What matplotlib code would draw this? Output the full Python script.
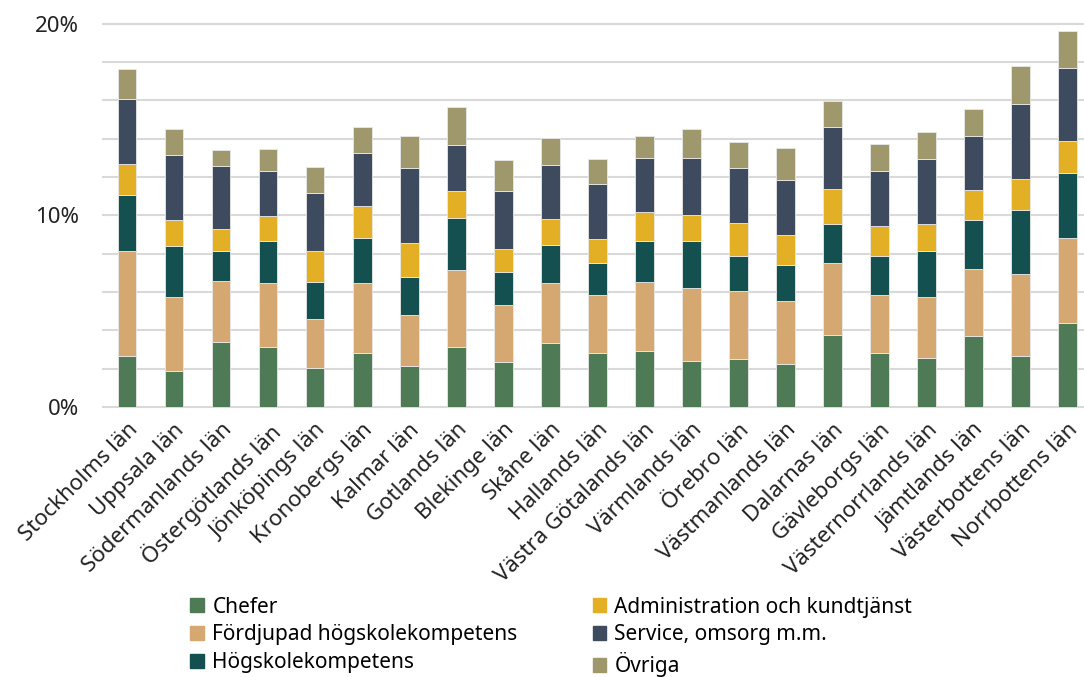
import matplotlib
matplotlib.use("Agg")
import matplotlib.pyplot as plt
import matplotlib.patches as mpatches
import numpy as np

plt.rcParams["font.family"] = ["Noto Sans", "DejaVu Sans"]

# Län och andelar (%) per yrkesgrupp
lan = [
    "Stockholms län", "Uppsala län", "Södermanlands län", "Östergötlands län",
    "Jönköpings län", "Kronobergs län", "Kalmar län", "Gotlands län",
    "Blekinge län", "Skåne län", "Hallands län", "Västra Götalands län",
    "Värmlands län", "Örebro län", "Västmanlands län", "Dalarnas län",
    "Gävleborgs län", "Västernorrlands län", "Jämtlands län",
    "Västerbottens län", "Norrbottens län",
]

chefer = [2.65, 1.88, 3.40, 3.14, 2.04, 2.82, 2.11, 3.14, 2.34, 3.35, 2.81,
          2.91, 2.41, 2.51, 2.25, 3.77, 2.82, 2.56, 3.70, 2.65, 4.39]
fordjupad = [5.51, 3.86, 3.19, 3.33, 2.55, 3.67, 2.69, 4.03, 2.96, 3.10, 3.03,
             3.61, 3.82, 3.56, 3.26, 3.73, 3.02, 3.19, 3.52, 4.31, 4.41]
hogskole = [2.91, 2.66, 1.54, 2.21, 1.95, 2.35, 2.00, 2.67, 1.74, 2.01, 1.68,
            2.15, 2.45, 1.78, 1.88, 2.07, 2.02, 2.41, 2.51, 3.29, 3.41]
admin = [1.61, 1.33, 1.13, 1.29, 1.59, 1.62, 1.76, 1.44, 1.19, 1.36, 1.25,
         1.50, 1.35, 1.74, 1.57, 1.78, 1.59, 1.38, 1.57, 1.66, 1.65]
service = [3.41, 3.40, 3.29, 2.32, 3.01, 2.81, 3.89, 2.37, 3.03, 2.80, 2.84,
           2.80, 2.94, 2.86, 2.86, 3.25, 2.86, 3.40, 2.82, 3.89, 3.82]
ovriga = [1.56, 1.39, 0.86, 1.17, 1.36, 1.32, 1.71, 2.01, 1.63, 1.43, 1.31,
          1.19, 1.55, 1.36, 1.69, 1.34, 1.40, 1.41, 1.43, 1.97, 1.94]

serier = [
    ("Chefer", chefer, "#4E7B55"),
    ("Fördjupad högskolekompetens", fordjupad, "#D4A870"),
    ("Högskolekompetens", hogskole, "#155050"),
    ("Administration och kundtjänst", admin, "#E3AF24"),
    ("Service, omsorg m.m.", service, "#3E4A5D"),
    ("Övriga", ovriga, "#9E986C"),
]

x = np.arange(len(lan))

fig = plt.figure(figsize=(10.84, 6.77), dpi=100, facecolor="white")
ax = fig.add_axes([0.095, 0.399, 0.905, 0.566])

bottom = np.zeros(len(lan))
handles = []
for namn, vals, farg in serier:
    ax.bar(x, vals, bottom=bottom, width=0.4, color=farg,
           edgecolor="#E8E8E8", linewidth=0.6, zorder=3)
    bottom += np.array(vals)
    handles.append(mpatches.Patch(color=farg, label=namn))

ax.set_xlim(-0.51, 20.35)
ax.set_ylim(0, 20)
ax.set_yticks(np.arange(0, 21, 2))
ax.set_yticklabels([f"{v}%" if v % 10 == 0 else "" for v in range(0, 21, 2)],
                   fontsize=16, color="#222")
ax.grid(axis="y", color="#D9D9D9", linewidth=1.5, zorder=0)
ax.tick_params(axis="y", length=0, pad=17)
for s in ax.spines.values():
    s.set_visible(False)
for gl in ax.get_ygridlines():
    gl.set_clip_on(False)

ax.set_xticks(x)
ax.set_xticklabels(lan, rotation=45, ha="right", va="top",
                   rotation_mode="anchor", fontsize=16, color="#222")
ax.tick_params(axis="x", length=0, pad=9)

fig.legend(handles=handles, loc="upper left", ncol=2, frameon=False, fontsize=15,
           handlelength=0.65, handleheight=0.65, handletextpad=0.4,
           columnspacing=3.6, labelspacing=0.32, borderaxespad=0,
           bbox_to_anchor=(0.168, 0.131), bbox_transform=fig.transFigure)

plt.savefig("out.png", dpi=100, facecolor="white")
plt.close()
